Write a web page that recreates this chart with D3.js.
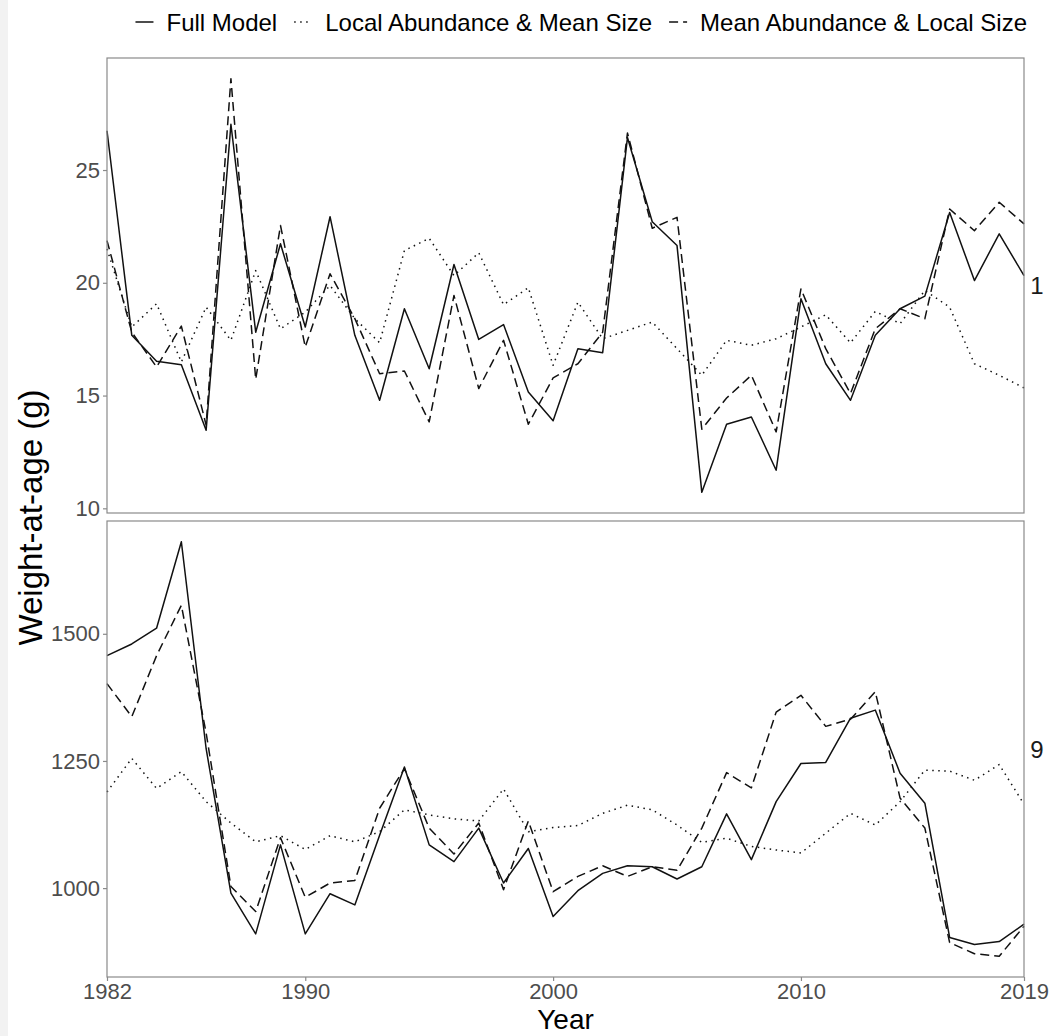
<!DOCTYPE html>
<html>
<head>
<meta charset="utf-8">
<script src="https://cdn.jsdelivr.net/npm/d3@7"></script>
<style>
  html, body { margin: 0; padding: 0; background: #fff; }
  svg { display: block; font-family: "Liberation Sans", Arial, sans-serif; }
</style>
</head>
<body>
<svg id="chart" width="1056" height="1036"></svg>
<script>
// ── Data ───────────────────────────────────────────────────────────────────
const YEARS = [1982, 1983, 1984, 1985, 1986, 1987, 1988, 1989, 1990, 1991,
  1992, 1993, 1994, 1995, 1996, 1997, 1998, 1999, 2000, 2001,
  2002, 2003, 2004, 2005, 2006, 2007, 2008, 2009, 2010, 2011,
  2012, 2013, 2014, 2015, 2016, 2017, 2018, 2019];

const SERIES = ['Full Model', 'Local Abundance & Mean Size', 'Mean Abundance & Local Size'];

// age 1
const AGE1_FULL = [26.74, 17.67, 16.52, 16.37, 13.46, 27.03, 17.81, 21.73, 18.04, 22.93,
  17.67, 14.79, 18.85, 16.19, 20.81, 17.49, 18.15, 15.16, 13.88, 17.08,
  16.90, 26.44, 22.71, 21.65, 10.71, 13.73, 14.05, 11.69, 19.29, 16.41,
  14.79, 17.67, 18.85, 19.41, 23.12, 20.10, 22.17, 20.32];
const AGE1_LOCAL_ABUND = [21.5, 18.04, 19.07, 16.49, 18.92, 17.45, 20.54, 17.96, 18.70, 19.88,
  18.41, 17.34, 21.43, 21.97, 20.32, 21.33, 19.03, 19.78, 16.34, 19.14,
  17.52, 17.89, 18.26, 17.08, 15.90, 17.45, 17.23, 17.52, 18.04, 18.58,
  17.34, 18.73, 18.19, 19.66, 18.92, 16.41, 15.90, 15.34];
const AGE1_LOCAL_SIZE = [21.87, 17.81, 16.27, 18.08, 13.69, 29.05, 15.72, 22.54, 17.15, 20.40,
  18.41, 15.97, 16.09, 13.83, 19.44, 15.31, 17.45, 13.73, 15.78, 16.41,
  17.81, 26.64, 22.42, 22.90, 13.51, 14.89, 15.90, 13.39, 19.73, 17.08,
  15.09, 17.96, 18.85, 18.41, 23.27, 22.31, 23.57, 22.61];

// age 9
const AGE9_FULL = [1457, 1480, 1511, 1681, 1274, 990, 910, 1085, 910, 989,
  967, 1104, 1238, 1085, 1052, 1118, 1010, 1078, 944, 995,
  1029, 1044, 1042, 1018, 1042, 1146, 1056, 1170, 1245, 1247,
  1334, 1350, 1226, 1167, 903, 889, 895, 929];
const AGE9_LOCAL_ABUND = [1189, 1255, 1196, 1229, 1170, 1128, 1091, 1103, 1076, 1103,
  1091, 1111, 1154, 1144, 1136, 1132, 1195, 1111, 1119, 1123,
  1147, 1163, 1154, 1124, 1090, 1098, 1082, 1075, 1069, 1108,
  1147, 1124, 1170, 1232, 1230, 1212, 1243, 1165];
const AGE9_LOCAL_SIZE = [1402, 1337, 1457, 1556, 1305, 1003, 954, 1099, 982, 1010,
  1015, 1157, 1235, 1118, 1067, 1128, 997, 1132, 993, 1023,
  1044, 1023, 1042, 1035, 1118, 1227, 1197, 1346, 1379, 1318,
  1332, 1386, 1177, 1118, 893, 871, 866, 925];

const X_TICKS = [1982, 1990, 2000, 2010, 2019];
const AGE1_TICKS = [10, 15, 20, 25];
const AGE9_TICKS = [1000, 1250, 1500];

const PANELS = [
  { label: '1', ticks: AGE1_TICKS, series: [AGE1_FULL, AGE1_LOCAL_ABUND, AGE1_LOCAL_SIZE] },
  { label: '9', ticks: AGE9_TICKS, series: [AGE9_FULL, AGE9_LOCAL_ABUND, AGE9_LOCAL_SIZE] },
];

// ── Layout ────────────────────────────────────────────────────────────────
const LEFT = 107, RIGHT = 1024;
const PANEL_Y = [[58, 513], [521, 977]];
const DASH = [null, '1.5,4.5', '9,5'];
const AXIS_GREY = '#8a8a8a';
const TEXT_GREY = '#4d4d4d';

const svg = d3.select('#chart');
svg.append('rect').attr('width', 1056).attr('height', 1036).attr('fill', '#fff');
svg.append('rect').attr('width', 8).attr('height', 1036).attr('fill', '#f2f2f2');

const x = d3.scaleLinear().domain([1982, 2019]).range([LEFT, RIGHT]);

const line = d3.line();

PANELS.forEach((p, pi) => {
  const [top, bottom] = PANEL_Y[pi];
  const all = p.series.flat();
  const lo = d3.min(all), hi = d3.max(all);
  const pad = (hi - lo) * 0.05;
  const y = d3.scaleLinear().domain([lo - pad, hi + pad]).range([bottom, top]);

  const g = svg.append('g');

  // lines
  p.series.forEach((vals, si) => {
    g.append('path')
      .attr('d', line(YEARS.map((yr, i) => [x(yr), y(vals[i])])))
      .attr('fill', 'none')
      .attr('stroke', '#111')
      .attr('stroke-width', 1.5)
      .attr('stroke-linejoin', 'round')
      .attr('stroke-dasharray', DASH[si]);
  });

  // border
  g.append('rect')
    .attr('x', LEFT).attr('y', top)
    .attr('width', RIGHT - LEFT).attr('height', bottom - top)
    .attr('fill', 'none').attr('stroke', AXIS_GREY).attr('stroke-width', 1.2);

  // y axis
  const yAxis = g.append('g')
    .attr('transform', `translate(${LEFT},0)`)
    .call(d3.axisLeft(y).tickValues(p.ticks).tickSize(4).tickPadding(3).tickFormat(d3.format('d')));
  yAxis.select('.domain').remove();
  yAxis.selectAll('line').attr('stroke', AXIS_GREY).attr('stroke-width', 1.2);
  yAxis.selectAll('text')
    .attr('fill', TEXT_GREY).attr('font-size', 22)
    .attr('font-family', '"Liberation Sans", Arial, sans-serif');

  // strip label on the right
  svg.append('text')
    .attr('x', 1037).attr('y', (top + bottom) / 2)
    .attr('text-anchor', 'middle').attr('dominant-baseline', 'central')
    .attr('font-size', 24).attr('fill', '#1a1a1a')
    .text(p.label);

  // x axis on bottom panel only
  if (pi === PANELS.length - 1) {
    const xAxis = g.append('g')
      .attr('transform', `translate(0,${bottom})`)
      .call(d3.axisBottom(x).tickValues(X_TICKS).tickSize(4).tickPadding(2).tickFormat(d3.format('d')));
    xAxis.select('.domain').remove();
    xAxis.selectAll('line').attr('stroke', AXIS_GREY).attr('stroke-width', 1.2);
    xAxis.selectAll('text')
      .attr('fill', TEXT_GREY).attr('font-size', 22)
      .attr('font-family', '"Liberation Sans", Arial, sans-serif');
  }
});

// axis titles
svg.append('text')
  .attr('x', (LEFT + RIGHT) / 2).attr('y', 1029)
  .attr('text-anchor', 'middle').attr('font-size', 28).attr('fill', '#000')
  .text('Year');
svg.append('text')
  .attr('transform', `translate(42,${(PANEL_Y[0][0] + PANEL_Y[1][1]) / 2}) rotate(-90)`)
  .attr('text-anchor', 'middle').attr('font-size', 33).attr('fill', '#000')
  .text('Weight-at-age (g)');

// ── Legend (laid out from the right edge) ─────────────────────────────────
const legend = svg.append('g');
const LEG_Y = 22, KEY_W = 18;
let cursor = 1027;
for (let i = SERIES.length - 1; i >= 0; i--) {
  const t = legend.append('text')
    .attr('y', LEG_Y).attr('dominant-baseline', 'central')
    .attr('font-size', 24).attr('fill', '#000')
    .text(SERIES[i]);
  const w = t.node().getComputedTextLength();
  t.attr('x', cursor - w);
  const kx = cursor - w - 13 - KEY_W;
  legend.append('line')
    .attr('x1', kx).attr('x2', kx + KEY_W)
    .attr('y1', LEG_Y).attr('y2', LEG_Y)
    .attr('stroke', '#111').attr('stroke-width', 1.5)
    .attr('stroke-dasharray', DASH[i]);
  cursor = kx - 17;
}
</script>
</body>
</html>
